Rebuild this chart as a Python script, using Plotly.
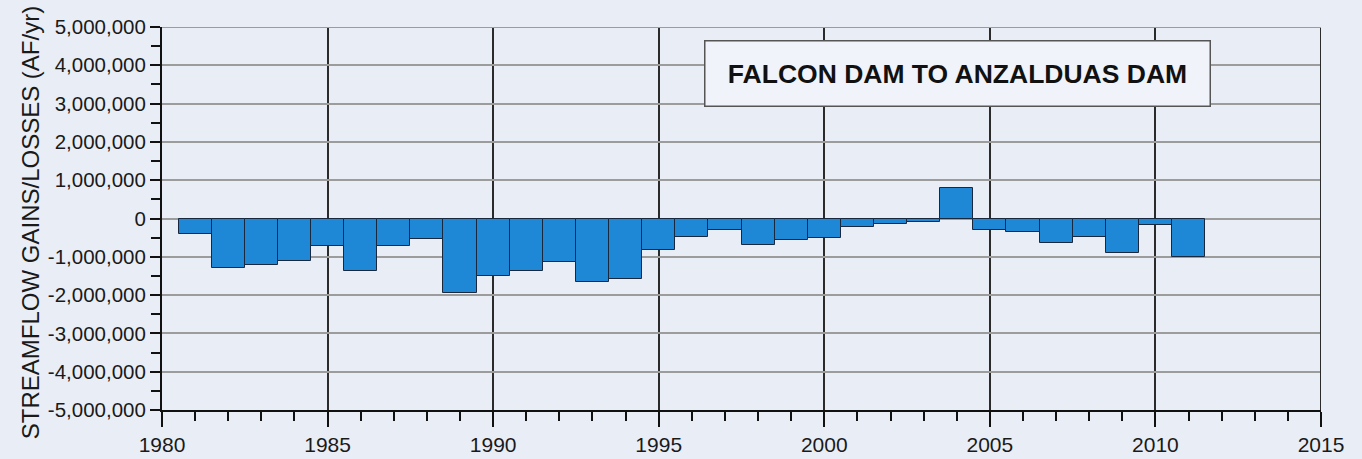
import plotly.graph_objects as go

# Annual streamflow gains (+) / losses (-), acre-feet per year
years = list(range(1981, 2012))
gains_losses = [
    -410000, -1280000, -1220000, -1100000, -710000,
    -1360000, -710000, -540000, -1940000, -1500000,
    -1380000, -1140000, -1670000, -1570000, -830000,
    -490000, -290000, -680000, -560000, -520000,
    -220000, -150000, -100000, 800000, -300000,
    -340000, -650000, -490000, -910000, -170000,
    -1000000,
]

reach_label = "FALCON DAM TO ANZALDUAS DAM"
y_title = "STREAMFLOW GAINS/LOSSES (AF/yr)"
x_tick_years = list(range(1980, 2016, 5))
y_tick_vals = list(range(-5000000, 5000001, 1000000))
y_tick_text = [f"{v:,}" for v in y_tick_vals]

BG = "rgb(233,238,246)"
BAR = "rgb(30,136,214)"
FONT = "Arial, Liberation Sans, sans-serif"

fig = go.Figure(
    go.Bar(
        x=years,
        y=gains_losses,
        width=1,
        marker=dict(color=BAR, line=dict(color="rgb(25,40,60)", width=1)),
    )
)

fig.update_xaxes(
    range=[1980, 2015],
    tickvals=x_tick_years,
    ticktext=[str(y) for y in x_tick_years],
    ticks="outside",
    ticklen=15,
    tickwidth=2,
    tickcolor="#111",
    showline=True,
    linecolor="#111",
    linewidth=2,
    showgrid=True,
    gridcolor="#2b2b2b",
    gridwidth=1.5,
    zeroline=False,
    automargin=False,
    minor=dict(dtick=1, ticks="outside", ticklen=9, tickwidth=2,
               tickcolor="#111", showgrid=False),
    tickfont=dict(family=FONT, size=21, color="#1a1a1a"),
)

fig.update_yaxes(
    range=[-5000000, 5000000],
    tickvals=y_tick_vals,
    ticktext=y_tick_text,
    ticks="outside",
    ticklen=10,
    tickwidth=2,
    tickcolor="#111",
    showline=True,
    linecolor="#111",
    linewidth=2,
    showgrid=True,
    gridcolor="#9c9c9c",
    gridwidth=1.5,
    zeroline=False,
    automargin=False,
    minor=dict(dtick=500000, ticks="outside", ticklen=9, tickwidth=2,
               tickcolor="#111", showgrid=False),
    tickfont=dict(family=FONT, size=20.5, color="#1a1a1a"),
)

# right-hand frame line at the last year of the axis
fig.add_shape(type="line", xref="x", yref="paper", x0=2015, x1=2015, y0=0, y1=1,
              line=dict(color="#2b2b2b", width=2))
# top grid line at the top of the range
fig.add_shape(type="line", xref="paper", yref="y", x0=0, x1=1,
              y0=5000000, y1=5000000, line=dict(color="#9c9c9c", width=2))

fig.add_annotation(
    text=f"<b>{reach_label}</b>",
    xref="paper", yref="paper", x=0.686, y=0.879,
    xanchor="center", yanchor="middle",
    showarrow=False,
    width=502, height=62,
    bgcolor="rgb(240,243,249)",
    bordercolor="#555",
    borderwidth=1.5,
    borderpad=1,
    font=dict(family=FONT, size=26.5, color="#111"),
)

fig.add_annotation(
    text=y_title,
    xref="paper", yref="paper", x=-0.114, y=0.49,
    xanchor="center", yanchor="middle",
    textangle=-90,
    showarrow=False,
    font=dict(family=FONT, size=24, color="#1a1a1a"),
)

fig.update_layout(
    width=1362,
    height=459,
    margin=dict(l=162, r=41, t=27, b=49),
    paper_bgcolor=BG,
    plot_bgcolor=BG,
    showlegend=False,
    bargap=0,
)

fig.write_html("out.html")
